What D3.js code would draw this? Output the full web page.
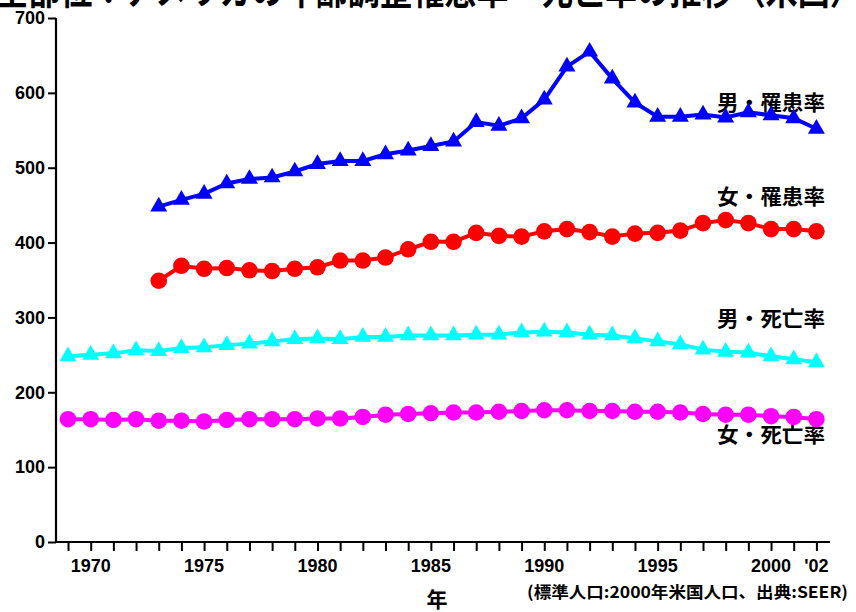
<!DOCTYPE html>
<html><head><meta charset="utf-8">
<script src="https://cdn.jsdelivr.net/npm/d3@7"></script>
<style>
body{margin:0;background:#fff;}
svg{display:block;}
</style></head>
<body>
<svg id="chart" width="856" height="612"></svg>
<script>
const yearsAll = d3.range(1969, 2003);
const yearsInc = d3.range(1973, 2003);
const maleIncidence = [448,457,465,479,485,487,495,505,509,509,518,523,529,535,561,556,566,591,635,655,619,587,568,568,571,567,574,570,566,552];
const femaleIncidence = [349,369,365,366,363,362,365,367,376,376,380,391,401,401,413,409,408,415,418,414,408,412,413,416,426,430,426,418,418,415];
const maleMortality = [248,250,252,256,255,259,260,263,265,268,271,272,271,274,274,276,276,276,277,277,280,281,280,277,276,272,268,264,257,254,253,248,244,240];
const femaleMortality = [164,164,163,164,162,162,161,163,164,164,164,165,165,167,170,171,172,173,173,174,175,176,176,175,175,174,174,173,171,170,170,168,167,164];
const yTicks = [0,100,200,300,400,500,600,700];
const xLabelYears = [1970,1975,1980,1985,1990,1995,2000,2002];
const xLabelTexts = ["1970","1975","1980","1985","1990","1995","2000","'02"];
const seriesLabels = ["男・罹患率","女・罹患率","男・死亡率","女・死亡率"];
const titleText = "全部位：アメリカの年齢調整罹患率・死亡率の推移（米国）";
const noteText = "(標準人口:2000年米国人口、出典:SEER)";
const xTitle = "年";

const svg = d3.select("#chart");
const x = d3.scaleLinear().domain([1968.47, 2002.6]).range([56, 830]);
const y = d3.scaleLinear().domain([0, 700]).range([542, 18]);
const numFont = "'Liberation Sans Narrow','Arial Narrow','Liberation Sans',Arial,sans-serif";
const jpFont = "'Noto Sans CJK JP','Noto Sans CJK SC',sans-serif";

// title (cut off at top, as in the reference)
svg.append("text").attr("x", -4).attr("y", 4)
  .attr("font-family", jpFont).attr("font-weight", "bold").attr("font-size", 40)
  .attr("textLength", 866).attr("lengthAdjust", "spacingAndGlyphs")
  .text(titleText);

// y axis
const yAxis = svg.append("g").attr("transform", "translate(56,0)")
  .call(d3.axisLeft(y).tickValues(yTicks).tickSize(8).tickPadding(3).tickFormat(d3.format("d")));
yAxis.select(".domain").attr("stroke", "#000").attr("stroke-width", 2.2).attr("d", `M0,${y(700)}V${y(0)}`);
yAxis.selectAll(".tick line").attr("stroke", "#000").attr("stroke-width", 2);
yAxis.selectAll(".tick text").attr("font-family", numFont).attr("font-weight", "bold")
  .attr("font-size", 18).attr("fill", "#000");

// x axis
const xAxis = svg.append("g").attr("transform", `translate(0,${y(0)})`)
  .call(d3.axisBottom(x).tickValues(yearsAll).tickSize(9).tickFormat(""));
xAxis.select(".domain").attr("stroke", "#000").attr("stroke-width", 2.2).attr("d", `M56,0H830`);
xAxis.selectAll(".tick line").attr("stroke", "#000").attr("stroke-width", 2);
svg.append("g").selectAll("text").data(xLabelYears).join("text")
  .attr("x", d => x(d)).attr("y", 572)
  .attr("text-anchor", "middle")
  .attr("font-family", numFont).attr("font-weight", "bold").attr("font-size", 18)
  .text((d, i) => xLabelTexts[i]);

// note and axis title
svg.append("text").attr("x", 527).attr("y", 598)
  .attr("font-family", jpFont).attr("font-weight", "bold").attr("font-size", 16)
  .attr("textLength", 321).attr("lengthAdjust", "spacingAndGlyphs")
  .text(noteText);
svg.append("text").attr("x", 437).attr("y", 607).attr("text-anchor", "middle")
  .attr("font-family", jpFont).attr("font-weight", "bold").attr("font-size", 21)
  .text(xTitle);

// series labels
const labelPos = [[825, 110], [825, 204], [825, 326], [825, 442]];
svg.append("g").selectAll("text").data(seriesLabels).join("text")
  .attr("x", (d, i) => labelPos[i][0]).attr("y", (d, i) => labelPos[i][1])
  .attr("text-anchor", "end")
  .attr("font-family", jpFont).attr("font-weight", "bold").attr("font-size", 21)
  .attr("textLength", 108).attr("lengthAdjust", "spacingAndGlyphs")
  .text(d => d);

const series = [
  {years: yearsAll, vals: maleMortality, color: "#00ffff", shape: "tri"},
  {years: yearsAll, vals: femaleMortality, color: "#ff00ff", shape: "circle"},
  {years: yearsInc, vals: femaleIncidence, color: "#ff0000", shape: "circle"},
  {years: yearsInc, vals: maleIncidence, color: "#0000ff", shape: "tri"}
];
const line = d3.line().x(d => x(d[0])).y(d => y(d[1]));
series.forEach(s => {
  const pts = s.years.map((yr, i) => [yr, s.vals[i]]);
  const g = svg.append("g");
  g.append("path").attr("d", line(pts)).attr("fill", "none")
    .attr("stroke", s.color).attr("stroke-width", 4);
  if (s.shape === "circle") {
    g.selectAll("circle").data(pts).join("circle")
      .attr("cx", d => x(d[0])).attr("cy", d => y(d[1])).attr("r", 8.3)
      .attr("fill", s.color);
  } else {
    const sym = d3.symbol().type(d3.symbolTriangle).size(125);
    g.selectAll("path.m").data(pts).join("path").attr("class", "m")
      .attr("transform", d => `translate(${x(d[0])},${y(d[1])})`)
      .attr("d", sym).attr("fill", s.color);
  }
});
</script>
</body></html>
